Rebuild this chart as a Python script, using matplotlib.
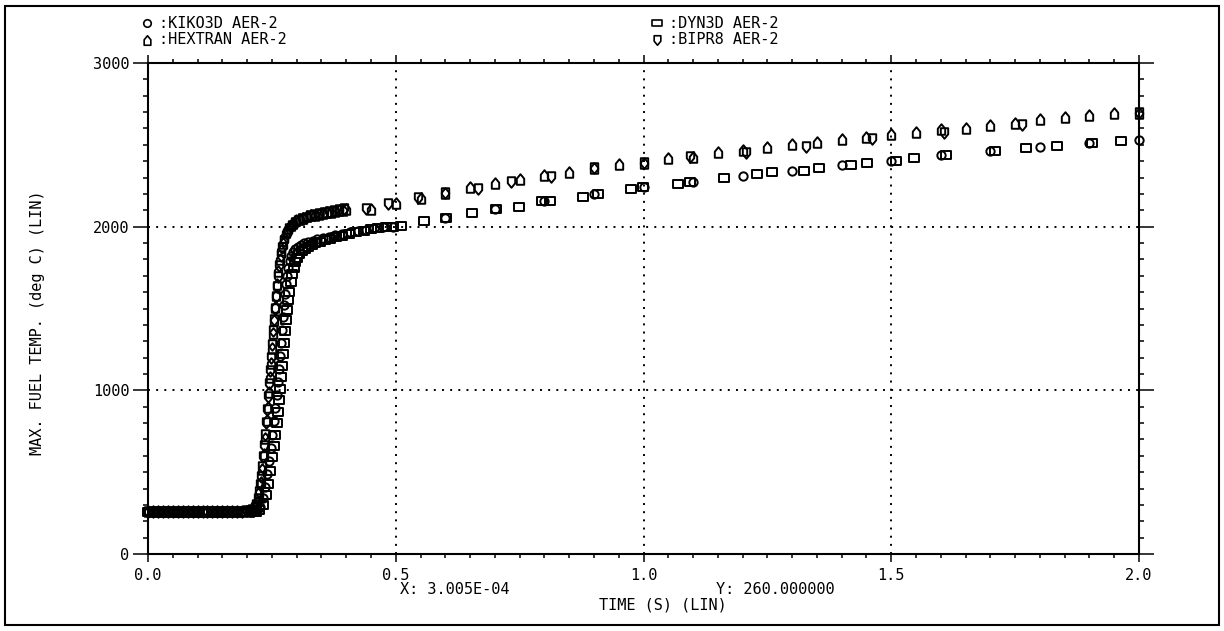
import numpy as np
import matplotlib
matplotlib.use('Agg')
from matplotlib import pyplot as plt
from matplotlib.path import Path
from matplotlib.lines import Line2D
from matplotlib.patches import Rectangle
from matplotlib.ticker import MultipleLocator, FormatStrFormatter

plt.rcParams['font.family'] = ['DejaVu Sans Mono', 'DejaVu Sans']

"""
------------------ DATI (letti dal grafico) ------------------
"""
# tratto iniziale piatto, comune ai quattro codici
t_flat = [0.00, 0.01, 0.02, 0.03, 0.04, 0.05, 0.06, 0.07, 0.08, 0.09,
          0.10, 0.11, 0.12, 0.13, 0.14, 0.15, 0.16, 0.17, 0.18, 0.19]
kiko_flat = [258, 260, 260, 259, 260, 260, 258, 260, 259, 260,
             257, 260, 259, 260, 258, 259, 260, 259, 258, 259]
dyn_flat = [255, 256, 257, 257, 256, 257, 250, 256, 257, 256,
            248, 257, 256, 255, 250, 256, 255, 256, 257, 256]
hex_flat = [262, 262, 263, 262, 262, 262, 262, 261, 262, 262,
            262, 261, 262, 262, 262, 261, 262, 262, 262, 262]
bipr_flat = [258, 258, 259, 258, 258, 258, 258, 258, 259, 258,
             258, 258, 258, 259, 258, 258, 258, 258, 258, 258]

# KIKO3D AER-2
kiko_t = [0.20, 0.21, 0.22, 0.226, 0.232, 0.237, 0.241, 0.245, 0.248, 0.251,
          0.254, 0.257, 0.260, 0.262, 0.264, 0.266, 0.268, 0.270, 0.272, 0.274,
          0.276, 0.278, 0.280, 0.283, 0.286, 0.289, 0.293, 0.297, 0.302, 0.308,
          0.315, 0.323, 0.332, 0.342, 0.353, 0.365, 0.378, 0.392, 0.407, 0.423,
          0.440, 0.457, 0.475, 0.495,
          0.6, 0.7, 0.8, 0.9, 1.0, 1.1, 1.2, 1.3, 1.4, 1.5,
          1.6, 1.7, 1.8, 1.9, 2.0]
kiko_T = [260, 258, 262, 290, 340, 410, 490, 570, 650, 730,
          810, 890, 970, 1050, 1130, 1210, 1290, 1370, 1450, 1520,
          1590, 1650, 1700, 1750, 1790, 1820, 1845, 1862, 1876, 1888,
          1898, 1906, 1914, 1922, 1930, 1938, 1947, 1956, 1965, 1974,
          1982, 1989, 1995, 2001,
          2055, 2106, 2159, 2198, 2240, 2275, 2309, 2342, 2377, 2401,
          2438, 2464, 2485, 2513, 2529]

# DYN3D AER-2
dyn_t = [0.20, 0.21, 0.218, 0.225, 0.232, 0.238, 0.243, 0.247, 0.251, 0.254,
         0.257, 0.260, 0.263, 0.265, 0.267, 0.269, 0.271, 0.273, 0.275, 0.277,
         0.279, 0.281, 0.283, 0.285, 0.288, 0.291, 0.294, 0.297, 0.301, 0.305,
         0.310, 0.316, 0.322, 0.330, 0.338, 0.347, 0.357, 0.368, 0.380, 0.392,
         0.405, 0.420, 0.435, 0.450, 0.465, 0.480, 0.495, 0.510,
         0.558, 0.602, 0.653, 0.703, 0.749, 0.795, 0.812, 0.878, 0.908, 0.975,
         0.999, 1.069, 1.093, 1.163, 1.229, 1.259, 1.323, 1.355, 1.419, 1.451,
         1.509, 1.546, 1.610, 1.710, 1.771, 1.835, 1.905, 1.963]
dyn_T = [258, 256, 255, 270, 300, 360, 430, 510, 590, 660,
         730, 800, 870, 940, 1010, 1080, 1150, 1220, 1290, 1360,
         1430, 1490, 1550, 1600, 1660, 1710, 1750, 1785, 1810, 1832,
         1850, 1866, 1878, 1890, 1900, 1908, 1917, 1926, 1936, 1946,
         1956, 1966, 1975, 1983, 1990, 1996, 2000, 2004,
         2035, 2055, 2082, 2106, 2122, 2159, 2159, 2180, 2198, 2228,
         2240, 2261, 2275, 2295, 2322, 2334, 2342, 2357, 2377, 2391,
         2401, 2417, 2438, 2464, 2479, 2493, 2513, 2523]

# HEXTRAN AER-2
hex_t = [0.205, 0.21, 0.215, 0.22, 0.225, 0.228, 0.231, 0.234, 0.237, 0.240,
         0.242, 0.244, 0.246, 0.248, 0.250, 0.252, 0.254, 0.256, 0.258, 0.260,
         0.263, 0.266, 0.269, 0.272, 0.275, 0.279, 0.283, 0.288, 0.293, 0.299,
         0.306, 0.313, 0.321, 0.329, 0.337, 0.345, 0.353, 0.361, 0.369, 0.377,
         0.385, 0.393, 0.400,
         0.45, 0.50, 0.55, 0.60, 0.65, 0.70, 0.75, 0.80, 0.85, 0.90,
         0.95, 1.00, 1.05, 1.10, 1.15, 1.20, 1.25, 1.30, 1.35, 1.40,
         1.45, 1.50, 1.55, 1.60, 1.65, 1.70, 1.75, 1.80, 1.85, 1.90,
         1.95, 2.00]
hex_T = [262, 268, 285, 320, 380, 440, 520, 610, 710, 820,
         900, 990, 1080, 1170, 1260, 1350, 1430, 1510, 1580, 1650,
         1730, 1800, 1855, 1900, 1935, 1965, 1990, 2010, 2025, 2038,
         2048, 2056, 2063, 2069, 2074, 2079, 2084, 2088, 2092, 2096,
         2100, 2104, 2108,
         2110, 2145, 2177, 2204, 2245, 2269, 2291, 2316, 2336, 2356,
         2383, 2392, 2417, 2423, 2458, 2468, 2488, 2505, 2519, 2534,
         2546, 2568, 2580, 2595, 2605, 2621, 2632, 2656, 2668, 2682,
         2693, 2696]

# BIPR8 AER-2
bipr_t = [0.20, 0.205, 0.21, 0.215, 0.218, 0.221, 0.224, 0.226, 0.228, 0.230,
          0.232, 0.234, 0.236, 0.238, 0.240, 0.242, 0.244, 0.246, 0.248, 0.250,
          0.252, 0.254, 0.256, 0.258, 0.260, 0.262, 0.265, 0.268, 0.271, 0.275,
          0.280, 0.285, 0.290, 0.296, 0.302, 0.310, 0.318, 0.326, 0.335, 0.345,
          0.355, 0.365, 0.375, 0.385, 0.395,
          0.44, 0.485, 0.545, 0.60, 0.665, 0.733, 0.814, 0.90, 1.00, 1.093,
          1.206, 1.328, 1.461, 1.607, 1.763, 2.00]
bipr_T = [260, 262, 266, 280, 300, 335, 380, 420, 470, 530,
          590, 660, 730, 800, 880, 960, 1040, 1120, 1200, 1280,
          1360, 1430, 1500, 1570, 1630, 1690, 1760, 1820, 1870, 1915,
          1955, 1985, 2005, 2022, 2035, 2047, 2056, 2064, 2071, 2078,
          2085, 2091, 2096, 2101, 2106,
          2106, 2140, 2177, 2204, 2230, 2275, 2305, 2356, 2392, 2423,
          2452, 2488, 2534, 2574, 2621, 2696]

series = [
    ('KIKO3D AER-2', t_flat + kiko_t, kiko_flat + kiko_T, 'circle'),
    ('DYN3D AER-2', t_flat + dyn_t, dyn_flat + dyn_T, 'rect'),
    ('HEXTRAN AER-2', t_flat + hex_t, hex_flat + hex_T, 'up'),
    ('BIPR8 AER-2', t_flat + bipr_t, bipr_flat + bipr_T, 'down'),
]

"""
------------------ MARKER ------------------
"""
C = Path.CLOSEPOLY
house_up = Path([(-0.7, -1), (0.7, -1), (0.7, 0.15), (0, 1), (-0.7, 0.15), (-0.7, -1)],
                [1, 2, 2, 2, 2, C])
house_down = Path([(-0.7, 1), (0.7, 1), (0.7, -0.15), (0, -1), (-0.7, -0.15), (-0.7, 1)],
                  [1, 2, 2, 2, 2, C])
rect = Path([(-1, -0.72), (1, -0.72), (1, 0.72), (-1, 0.72), (-1, -0.72)],
            [1, 2, 2, 2, C])
markers = {'circle': ('o', 6.0), 'rect': (rect, 7.4), 'up': (house_up, 7.6), 'down': (house_down, 7.6)}

"""
------------------ GRAFICO ------------------
"""
W, H = 1224, 631
fig = plt.figure(figsize=(W / 100, H / 100), dpi=100)
ax = fig.add_axes([148 / W, 1 - 554 / H, 991 / W, 491 / H])

for name, t, T, m in series:
    mk, ms = markers[m]
    ax.plot(t, T, linestyle='none', marker=mk, markersize=ms, mfc='none',
            mec='black', mew=1.4, clip_on=False, zorder=3)

ax.set_xlim(0, 2.0)
ax.set_ylim(0, 3000)
ax.xaxis.set_major_locator(MultipleLocator(0.5))
ax.xaxis.set_minor_locator(MultipleLocator(0.05))
ax.yaxis.set_major_locator(MultipleLocator(1000))
ax.yaxis.set_minor_locator(MultipleLocator(100))
ax.xaxis.set_major_formatter(FormatStrFormatter('%.1f'))
ax.yaxis.set_major_formatter(FormatStrFormatter('%d'))

ax.grid(True, which='major', color='black', linestyle=(0, (1, 3.2)), linewidth=1.4, zorder=1)
for s in ax.spines.values():
    s.set_linewidth(1.5)

ax.tick_params(which='both', direction='out', top=True, right=True, width=1.1,
               labelsize=11, colors='black')
ax.tick_params(axis='y', which='major', length=10.5, pad=3)
ax.tick_params(axis='y', which='minor', length=3.6)
ax.tick_params(axis='x', which='major', length=6.0, pad=4)
ax.tick_params(axis='x', which='minor', length=3.0)

fig.text(38 / W, 1 - 323 / H, 'MAX. FUEL TEMP. (deg C) (LIN)', rotation=90,
         ha='center', va='center', fontsize=11)
fig.text(663 / W, 1 - 605 / H, 'TIME (S) (LIN)', ha='center', va='center', fontsize=11)
fig.text(400 / W, 1 - 589 / H, 'X: 3.005E-04', ha='left', va='center', fontsize=11)
fig.text(716 / W, 1 - 589 / H, 'Y: 260.000000', ha='left', va='center', fontsize=11)

# legenda in alto
leg = [(147, 23, 'circle', 'KIKO3D AER-2'), (147, 40, 'up', 'HEXTRAN AER-2'),
       (657, 23, 'rect', 'DYN3D AER-2'), (657, 40, 'down', 'BIPR8 AER-2')]
for x, y, m, lab in leg:
    mk, ms = markers[m]
    fig.add_artist(Line2D([x / W], [1 - y / H], transform=fig.transFigure,
                          linestyle='none', marker=mk, markersize=ms * 0.9,
                          mfc='none', mec='black', mew=1.2))
    fig.text((x + 12) / W, 1 - y / H, ':' + lab, ha='left', va='center', fontsize=11)

fig.add_artist(Rectangle((5 / W, 1 - 625 / H), 1214 / W, 619 / H, transform=fig.transFigure,
                         fill=False, edgecolor='black', linewidth=1.5))

plt.savefig('out.png', dpi=100)
